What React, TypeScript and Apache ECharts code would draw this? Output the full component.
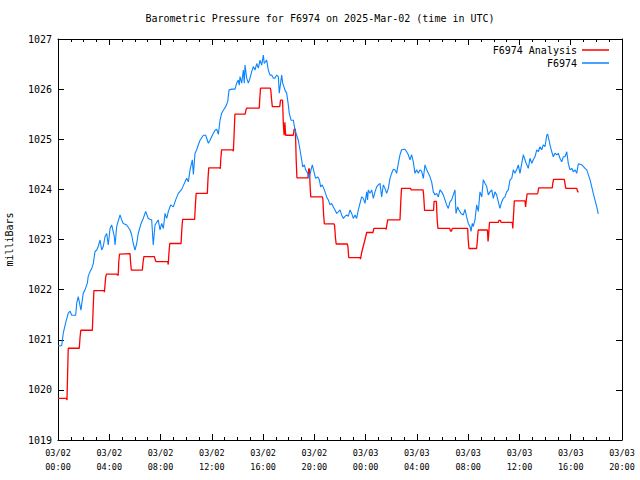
import React, { useEffect, useRef } from "react";
import * as echarts from "echarts";

const titleText = "Barometric Pressure for F6974 on 2025-Mar-02 (time in UTC)";
const yAxisName = "milliBars";
const seriesNames = ["F6974 Analysis", "F6974"];
const xTickLabels = [
  "03/02\n00:00", "03/02\n04:00", "03/02\n08:00", "03/02\n12:00", "03/02\n16:00", "03/02\n20:00",
  "03/03\n00:00", "03/03\n04:00", "03/03\n08:00", "03/03\n12:00", "03/03\n16:00", "03/03\n20:00",
];

// [hours since 03/02 00:00 UTC, millibars]
const analysis: [number, number][] = [
  [0.00, 1019.83], [0.65, 1019.83], [0.70, 1019.80], [0.75, 1020.33], [0.80, 1020.83],
  [1.66, 1020.83], [1.72, 1021.05], [1.78, 1021.19],
  [2.68, 1021.19], [2.74, 1021.60], [2.80, 1021.98],
  [3.58, 1021.98], [3.62, 1021.95], [3.66, 1021.95], [3.72, 1022.25], [3.78, 1022.31],
  [4.60, 1022.31], [4.64, 1022.29], [4.70, 1022.29], [4.74, 1022.55], [4.80, 1022.71],
  [5.62, 1022.72], [5.66, 1022.55], [5.72, 1022.39],
  [6.58, 1022.39], [6.64, 1022.55], [6.70, 1022.66],
  [7.52, 1022.66], [7.58, 1022.60], [7.64, 1022.56],
  [8.56, 1022.56], [8.60, 1022.50], [8.66, 1022.75], [8.72, 1022.92],
  [9.60, 1022.92], [9.66, 1023.20], [9.72, 1023.40],
  [10.66, 1023.40], [10.72, 1023.70], [10.78, 1023.92],
  [11.65, 1023.92], [11.70, 1024.20], [11.76, 1024.43],
  [12.62, 1024.43], [12.66, 1024.41], [12.70, 1024.60], [12.76, 1024.79],
  [13.64, 1024.79], [13.68, 1024.76], [13.74, 1025.10], [13.80, 1025.50],
  [14.60, 1025.50], [14.66, 1025.58], [14.72, 1025.62],
  [15.70, 1025.62], [15.74, 1025.80], [15.80, 1026.02],
  [16.56, 1026.02], [16.60, 1025.98], [16.66, 1025.80], [16.72, 1025.65],
  [17.30, 1025.65], [17.36, 1025.78], [17.52, 1025.78], [17.58, 1025.30], [17.64, 1025.08],
  [17.70, 1025.34], [17.76, 1025.08], [18.36, 1025.08], [18.42, 1025.20], [18.52, 1025.20],
  [18.58, 1024.60], [18.64, 1024.23],
  [19.50, 1024.23], [19.56, 1024.41], [19.62, 1024.41], [19.66, 1024.10], [19.72, 1023.85],
  [20.62, 1023.85], [20.66, 1023.82], [20.72, 1023.50], [20.78, 1023.31],
  [21.54, 1023.31], [21.58, 1023.28], [21.64, 1023.05], [21.70, 1022.91],
  [22.58, 1022.91], [22.62, 1022.85], [22.68, 1022.64],
  [23.56, 1022.64], [23.60, 1022.61], [23.70, 1022.75], [23.85, 1022.90], [24.00, 1023.05], [24.08, 1023.14],
  [24.58, 1023.14], [24.64, 1023.22],
  [25.55, 1023.22], [25.60, 1023.20], [25.66, 1023.30], [25.72, 1023.39],
  [26.68, 1023.39], [26.74, 1023.75], [26.80, 1024.02],
  [27.50, 1024.02], [27.56, 1023.99], [28.48, 1023.99], [28.52, 1023.90], [28.60, 1023.58],
  [29.30, 1023.58], [29.34, 1023.76], [29.52, 1023.76], [29.58, 1023.40], [29.64, 1023.22],
  [30.56, 1023.22], [30.62, 1023.17], [30.70, 1023.17], [30.76, 1023.22],
  [31.96, 1023.22], [32.00, 1023.00], [32.06, 1022.82],
  [32.66, 1022.82], [32.72, 1023.00], [32.78, 1023.19],
  [33.50, 1023.19], [33.55, 1022.96], [33.60, 1023.10], [33.66, 1023.34],
  [34.35, 1023.34], [34.40, 1023.38], [34.52, 1023.38], [34.56, 1023.34],
  [35.44, 1023.34], [35.48, 1023.22], [35.54, 1023.50], [35.60, 1023.77],
  [36.43, 1023.77], [36.48, 1023.65], [36.54, 1023.80], [36.60, 1023.91],
  [37.40, 1023.91], [37.44, 1023.94], [37.50, 1024.03],
  [38.56, 1024.03], [38.60, 1024.12], [38.66, 1024.20],
  [39.50, 1024.20], [39.56, 1024.10], [39.62, 1024.02],
  [40.47, 1024.02], [40.52, 1023.97], [40.60, 1023.94],
];

const observed: [number, number][] = [
  [0.00, 1020.88], [0.29, 1020.88], [0.41, 1021.13], [0.62, 1021.36], [0.80, 1021.53], [0.94, 1021.57],
  [1.07, 1021.49], [1.38, 1021.49], [1.46, 1021.73], [1.58, 1021.86], [1.79, 1021.59], [1.97, 1021.93],
  [2.11, 1022.00], [2.29, 1022.13], [2.36, 1022.27], [2.50, 1022.36], [2.63, 1022.42], [2.75, 1022.52],
  [2.89, 1022.76], [3.02, 1022.79], [3.14, 1022.86], [3.28, 1022.99], [3.41, 1022.79], [3.53, 1022.86],
  [3.67, 1023.06], [3.80, 1023.12], [3.92, 1022.89], [4.06, 1023.22], [4.19, 1023.29], [4.39, 1023.06],
  [4.45, 1022.89], [4.58, 1023.26], [4.84, 1023.49], [4.97, 1023.39], [5.09, 1023.32], [5.36, 1023.29],
  [5.62, 1023.19], [5.75, 1023.09], [5.87, 1022.92], [6.01, 1022.79], [6.14, 1022.92], [6.26, 1023.12],
  [6.48, 1023.32], [6.65, 1023.42], [6.84, 1023.56], [7.04, 1023.42], [7.31, 1023.39], [7.43, 1022.89],
  [7.57, 1023.29], [7.82, 1023.39], [7.96, 1023.19], [8.09, 1023.32], [8.22, 1023.22], [8.35, 1023.52],
  [8.48, 1023.42], [8.61, 1023.56], [8.79, 1023.69], [9.00, 1023.65], [9.18, 1023.79], [9.39, 1023.92],
  [9.65, 1024.00], [9.91, 1024.15], [10.04, 1024.22], [10.17, 1024.15], [10.30, 1024.39], [10.48, 1024.59],
  [10.56, 1024.30], [10.69, 1024.72], [10.82, 1024.79], [10.95, 1024.89], [11.08, 1024.98], [11.34, 1025.08],
  [11.52, 1025.08], [11.73, 1024.92], [11.86, 1024.98], [12.04, 1025.08], [12.25, 1025.18], [12.38, 1025.20],
  [12.51, 1025.10], [12.64, 1025.38], [12.77, 1025.52], [12.90, 1025.58], [13.08, 1025.65], [13.24, 1025.75],
  [13.34, 1025.98], [13.55, 1026.00], [13.81, 1026.00], [13.94, 1026.12], [14.07, 1026.18], [14.14, 1026.08],
  [14.20, 1026.25], [14.33, 1026.12], [14.46, 1026.38], [14.53, 1026.12], [14.59, 1026.48], [14.72, 1026.22],
  [14.85, 1026.12], [14.98, 1026.22], [15.11, 1026.35], [15.24, 1026.45], [15.37, 1026.38], [15.50, 1026.51],
  [15.63, 1026.42], [15.76, 1026.58], [15.89, 1026.48], [16.02, 1026.68], [16.09, 1026.51], [16.28, 1026.58],
  [16.41, 1026.38], [16.54, 1026.28], [16.67, 1026.28], [16.80, 1026.22], [16.93, 1026.22], [17.06, 1026.28],
  [17.19, 1026.25], [17.26, 1025.92], [17.45, 1026.28], [17.53, 1026.12], [17.71, 1025.98], [17.84, 1025.92],
  [17.97, 1025.68], [18.04, 1025.52], [18.18, 1025.38], [18.36, 1025.38], [18.49, 1025.18], [18.62, 1025.08],
  [18.75, 1024.98], [18.88, 1024.79], [19.01, 1024.59], [19.09, 1024.45], [19.22, 1024.49], [19.32, 1024.39],
  [19.48, 1024.32], [19.58, 1024.22], [19.74, 1024.39], [19.84, 1024.49], [20.00, 1024.32], [20.10, 1024.22],
  [20.26, 1024.25], [20.39, 1024.19], [20.49, 1024.05], [20.62, 1024.09], [20.78, 1023.99], [20.96, 1023.85],
  [21.09, 1023.79], [21.22, 1023.69], [21.35, 1023.72], [21.48, 1023.65], [21.61, 1023.59], [21.74, 1023.52],
  [21.87, 1023.55], [22.00, 1023.59], [22.13, 1023.49], [22.26, 1023.42], [22.39, 1023.46], [22.52, 1023.49],
  [22.65, 1023.46], [22.78, 1023.59], [22.91, 1023.52], [23.04, 1023.42], [23.17, 1023.49], [23.30, 1023.42],
  [23.43, 1023.59], [23.56, 1023.72], [23.69, 1023.85], [23.82, 1023.82], [23.95, 1023.72], [24.08, 1023.95],
  [24.15, 1023.79], [24.21, 1023.99], [24.34, 1023.92], [24.47, 1023.99], [24.60, 1023.82], [24.73, 1023.95],
  [24.86, 1024.05], [24.99, 1024.09], [25.12, 1024.12], [25.25, 1023.85], [25.38, 1024.09], [25.51, 1024.02],
  [25.64, 1023.92], [25.77, 1024.02], [25.90, 1024.22], [26.03, 1024.32], [26.16, 1024.40], [26.29, 1024.39],
  [26.42, 1024.32], [26.55, 1024.52], [26.68, 1024.69], [26.81, 1024.79], [27.07, 1024.80], [27.20, 1024.75],
  [27.33, 1024.69], [27.46, 1024.59], [27.59, 1024.69], [27.72, 1024.55], [27.85, 1024.32], [27.98, 1024.39],
  [28.11, 1024.32], [28.24, 1024.39], [28.37, 1024.36], [28.50, 1024.22], [28.63, 1024.49], [28.76, 1024.39],
  [28.89, 1024.32], [29.02, 1024.25], [29.15, 1024.15], [29.28, 1023.95], [29.41, 1023.89], [29.54, 1023.92],
  [29.67, 1023.85], [29.80, 1023.99], [29.93, 1023.95], [30.06, 1023.89], [30.19, 1023.79], [30.32, 1023.69],
  [30.45, 1023.62], [30.58, 1023.75], [30.71, 1023.79], [30.84, 1023.89], [30.97, 1023.99], [31.05, 1023.52],
  [31.18, 1023.65], [31.28, 1023.59], [31.44, 1023.52], [31.62, 1023.49], [31.75, 1023.60], [31.88, 1023.45],
  [32.01, 1023.32], [32.14, 1023.26], [32.22, 1023.16], [32.32, 1023.32], [32.40, 1023.26], [32.53, 1023.39],
  [32.66, 1023.69], [32.79, 1023.56], [32.92, 1023.95], [33.06, 1023.85], [33.18, 1024.19], [33.31, 1024.12],
  [33.45, 1024.05], [33.57, 1023.89], [33.70, 1023.95], [33.84, 1023.99], [33.96, 1023.82], [34.09, 1023.95],
  [34.22, 1023.89], [34.35, 1023.75], [34.48, 1023.62], [34.61, 1023.75], [34.74, 1023.82], [34.87, 1023.85],
  [35.00, 1023.95], [35.13, 1023.99], [35.26, 1024.19], [35.40, 1024.22], [35.52, 1024.39], [35.65, 1024.32],
  [35.78, 1024.39], [35.91, 1024.49], [36.04, 1024.32], [36.18, 1024.52], [36.30, 1024.69], [36.43, 1024.59],
  [36.57, 1024.49], [36.69, 1024.42], [36.82, 1024.62], [36.96, 1024.52], [37.08, 1024.59], [37.21, 1024.65],
  [37.35, 1024.79], [37.47, 1024.75], [37.60, 1024.85], [37.74, 1024.79], [37.86, 1024.89], [37.99, 1024.85],
  [38.13, 1025.08], [38.20, 1025.10], [38.31, 1024.98], [38.38, 1024.89], [38.52, 1024.75], [38.64, 1024.65],
  [38.77, 1024.72], [38.91, 1024.69], [39.03, 1024.72], [39.16, 1024.62], [39.30, 1024.55], [39.42, 1024.65],
  [39.55, 1024.65], [39.69, 1024.75], [39.81, 1024.52], [39.94, 1024.39], [40.08, 1024.42], [40.20, 1024.35],
  [40.33, 1024.39], [40.47, 1024.32], [40.59, 1024.51], [40.86, 1024.49], [41.12, 1024.42], [41.25, 1024.39],
  [41.38, 1024.29], [41.51, 1024.19], [41.64, 1024.05], [41.76, 1023.92], [41.89, 1023.79], [42.03, 1023.65],
  [42.15, 1023.51],
];

const MONO = "'DejaVu Sans Mono', 'Liberation Mono', monospace";

export default function App() {
  const ref = useRef<HTMLDivElement>(null);
  useEffect(() => {
    if (!ref.current) return;
    const chart = echarts.init(ref.current, null, { renderer: "svg" });
    const tickCommon = {
      axisLine: { show: true, onZero: false, lineStyle: { color: "#000", width: 1 } },
      axisTick: { show: true, inside: true, length: 6, lineStyle: { color: "#000", width: 1 } },
      splitLine: { show: false },
    };
    chart.setOption({
      animation: false,
      backgroundColor: "#fff",
      title: {
        text: titleText,
        left: "center",
        top: 13,
        padding: 0,
        textStyle: { fontFamily: MONO, fontSize: 10, fontWeight: "normal", color: "#000" },
      },
      legend: {
        data: seriesNames,
        orient: "vertical",
        right: 31,
        top: 44,
        align: "right",
        icon: "rect",
        itemWidth: 27,
        itemHeight: 1.5,
        itemGap: 1,
        padding: 0,
        selectedMode: false,
        textStyle: { fontFamily: MONO, fontSize: 10, color: "#000", lineHeight: 12 },
      },
      grid: { left: 58, right: 18, top: 39, bottom: 40, containLabel: false, outerBoundsMode: "none" },
      xAxis: [
        {
          type: "value", min: 0, max: 44, interval: 4, position: "bottom",
          ...tickCommon,
          minorTick: { show: true, splitNumber: 4, length: 3, lineStyle: { color: "#000", width: 1 } },
          minorSplitLine: { show: false },
          axisLabel: {
            show: true, margin: 6, color: "#000", fontFamily: MONO, fontSize: 8.5, lineHeight: 14,
            formatter: (v: number) => xTickLabels[Math.round(v / 4)] ?? "",
          },
        },
        {
          type: "value", min: 0, max: 44, interval: 4, position: "top",
          ...tickCommon,
          minorTick: { show: true, splitNumber: 4, length: 3, lineStyle: { color: "#000", width: 1 } },
          axisLabel: { show: false },
        },
      ],
      yAxis: [
        {
          type: "value", min: 1019, max: 1027, interval: 1, position: "left",
          ...tickCommon,
          axisLabel: {
            show: true, margin: 6, color: "#000", fontFamily: MONO, fontSize: 10,
            formatter: (v: number) => String(v),
          },
          name: yAxisName,
          nameLocation: "middle",
          nameRotate: 90,
          nameGap: 44,
          nameTextStyle: { fontFamily: MONO, fontSize: 10, color: "#000" },
        },
        {
          type: "value", min: 1019, max: 1027, interval: 1, position: "right",
          ...tickCommon,
          axisLabel: { show: false },
        },
      ],
      series: [
        {
          name: seriesNames[0], type: "line", data: analysis, showSymbol: false, symbol: "none",
          color: "#ff0000", lineStyle: { color: "#ff0000", width: 1.3 }, z: 2,
        },
        {
          name: seriesNames[1], type: "line", data: observed, showSymbol: false, symbol: "none",
          color: "#0a84ff", lineStyle: { color: "#0a84ff", width: 1.1 }, z: 3,
        },
      ],
    });
    return () => chart.dispose();
  }, []);
  return (
    <div
      ref={ref}
      style={{ position: "fixed", left: 0, top: 0, width: 640, height: 480, background: "#fff" }}
    />
  );
}
